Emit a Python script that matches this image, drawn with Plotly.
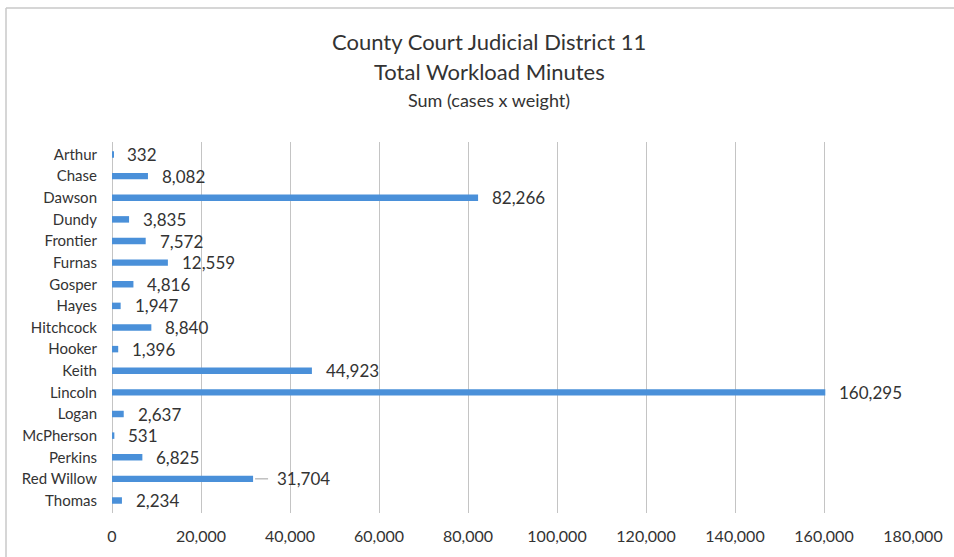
import plotly.graph_objects as go

# Total workload minutes per county (cases x weight)
counties = ["Arthur", "Chase", "Dawson", "Dundy", "Frontier", "Furnas", "Gosper",
            "Hayes", "Hitchcock", "Hooker", "Keith", "Lincoln", "Logan",
            "McPherson", "Perkins", "Red Willow", "Thomas"]
minutes = [332, 8082, 82266, 3835, 7572, 12559, 4816, 1947, 8840, 1396,
           44923, 160295, 2637, 531, 6825, 31704, 2234]
x_ticks = [0, 20000, 40000, 60000, 80000, 100000, 120000, 140000, 160000, 180000]
title_lines = ["County Court Judicial District 11", "Total Workload Minutes",
               "Sum (cases x weight)"]
leader_counties = ["Red Willow"]

FONT = "Lato, 'Open Sans', sans-serif"
TEXT = "#333333"
BAR = "#4a90d9"
GRID = "#c4c4c4"

W, H = 954, 557
L, R, T, B = 112, 41, 142, 44
plot_w = W - L - R
plot_h = H - T - B


def px_to_paper_x(px):
    return (px - L) / plot_w


def px_to_paper_y(py):
    return (H - B - py) / plot_h


fig = go.Figure(go.Bar(
    x=minutes, y=counties, orientation="h",
    width=0.3, marker=dict(color=BAR, line=dict(width=0)),
    hoverinfo="x+y",
))

# Value labels to the right of each bar
for c, v in zip(counties, minutes):
    label = f"{v:,}"
    if c in leader_counties:
        fig.add_annotation(x=v, y=c, text=label, showarrow=True, ax=22, ay=0,
                           xanchor="left", arrowhead=0, arrowwidth=1,
                           arrowcolor="#a0a0a0", standoff=2, startstandoff=7,
                           font=dict(family=FONT, size=17, color=TEXT))
    else:
        fig.add_annotation(x=v, y=c, text=label, showarrow=False,
                           xanchor="left", xshift=12,
                           font=dict(family=FONT, size=17, color=TEXT))

# Three-line centered title
for text, ypix, size in zip(title_lines, [42, 71, 100], [22, 22, 18]):
    fig.add_annotation(xref="paper", yref="paper", x=px_to_paper_x(W / 2 + 12),
                       y=px_to_paper_y(ypix), text=text, showarrow=False,
                       xanchor="center", yanchor="middle",
                       font=dict(family=FONT, size=size, color=TEXT))

# Chart frame: top and left edges
frame = dict(type="line", xref="paper", yref="paper",
             line=dict(color="#c8c8c8", width=1.5))
fig.add_shape(**frame, x0=px_to_paper_x(6), x1=px_to_paper_x(W),
              y0=px_to_paper_y(8), y1=px_to_paper_y(8))
fig.add_shape(**frame, x0=px_to_paper_x(6), x1=px_to_paper_x(6),
              y0=px_to_paper_y(8), y1=px_to_paper_y(H))

fig.update_layout(
    width=W, height=H,
    margin=dict(l=L, r=R, t=T, b=B, pad=0, autoexpand=False),
    paper_bgcolor="white", plot_bgcolor="white",
    showlegend=False,
    font=dict(family=FONT, color=TEXT),
    xaxis=dict(range=[0, 180000], tickvals=x_ticks,
               ticktext=[f"{t:,}" for t in x_ticks],
               showgrid=True, gridcolor=GRID, gridwidth=1,
               zeroline=True, zerolinecolor=GRID, zerolinewidth=1,
               showline=False, ticks="", ticklabelstandoff=12, automargin=False,
               tickfont=dict(family=FONT, size=16, color=TEXT)),
    yaxis=dict(categoryorder="array", categoryarray=counties,
               autorange="reversed", showgrid=False, zeroline=False,
               showline=False, ticks="", ticklabelstandoff=14, automargin=False,
               tickfont=dict(family=FONT, size=15, color=TEXT)),
)

fig.write_html("out.html")
